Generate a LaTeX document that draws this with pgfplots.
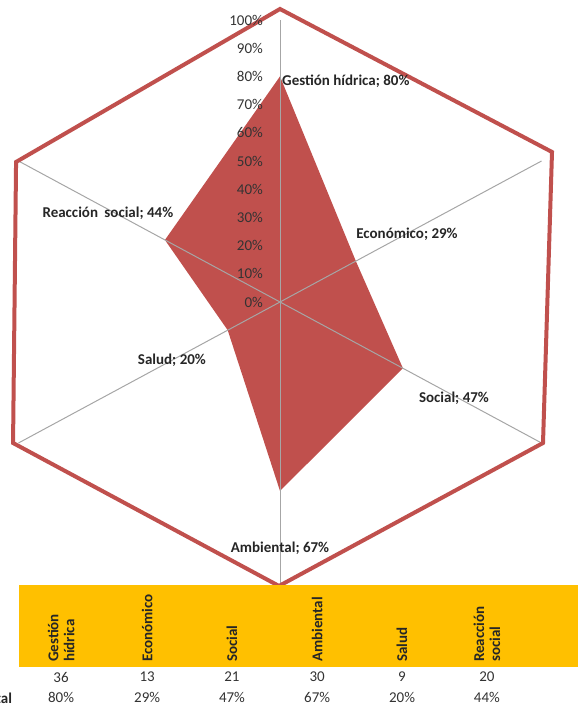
\documentclass[border=0pt]{standalone}
\usepackage{fontspec}
\setmainfont{Carlito}
\usepackage{pgfplots}
\pgfplotsset{compat=1.18}
\definecolor{radarred}{HTML}{C0504D}
\definecolor{bandorange}{HTML}{FFC000}
\definecolor{spokegray}{HTML}{A6A6A6}
\tikzset{
  lbl/.style={font=\bfseries\fontsize{15}{18}\selectfont, text=black!85, inner sep=0pt},
  tk/.style={font=\fontsize{15}{18}\selectfont, text=black!80, inner sep=0pt},
}
\begin{document}
\begin{tikzpicture}
\begin{axis}[
  width=578pt, height=706pt, scale only axis,
  xmin=-92.72, xmax=98.68, ymin=-143.26, ymax=107.09,
  hide axis, clip=false,
]
\path (rel axis cs:0,0) rectangle (rel axis cs:1,1);
% data polygon (angle, percent)
\addplot[fill=radarred, draw=none, data cs=polar] coordinates {
  (90,80) (30,29) (-30,47) (-90,67) (210,20) (150,44)
} -- cycle;
% spokes
\addplot[spokegray, line width=1pt, data cs=polar] coordinates {(0,0) (90,100)};
\addplot[spokegray, line width=1pt, data cs=polar] coordinates {(0,0) (30,100)};
\addplot[spokegray, line width=1pt, data cs=polar] coordinates {(0,0) (-30,100)};
\addplot[spokegray, line width=1pt, data cs=polar] coordinates {(0,0) (-90,100)};
\addplot[spokegray, line width=1pt, data cs=polar] coordinates {(0,0) (210,100)};
\addplot[spokegray, line width=1pt, data cs=polar] coordinates {(0,0) (150,100)};
% outer hexagon
\addplot[radarred, line width=4pt, line join=miter] coordinates {
  (0,103.9) (90.07,53.19) (87.09,-50) (-0.33,-100.7) (-88.4,-50) (-87.4,49.65)
} -- cycle;
% table band
\fill[bandorange] (axis cs:-86.4,-100.35) rectangle (axis cs:98.68,-129.5);
% tick labels
\pgfplotsinvokeforeach{0,10,20,30,40,50,60,70,80,90,100}{
  \node[tk, anchor=east] at (axis cs:-5.6,#1) {#1\%};
}
% data labels
\node[lbl, anchor=west] at (axis cs:0.66,78.4) {Gestión hídrica; 80\%};
\node[lbl] at (axis cs:42.05,24.1) {Económico; 29\%};
\node[lbl] at (axis cs:57.6,-34.0) {Social; 47\%};
\node[lbl] at (axis cs:0,-87.2) {Ambiental; 67\%};
\node[lbl] at (axis cs:-35.8,-20.6) {Salud; 20\%};
\node[lbl] at (axis cs:-57.0,31.6) {Reacción\hspace{3pt} social; 44\%};
% table headers
\node[lbl, rotate=90, anchor=west, align=left, font=\bfseries\fontsize{15}{16}\selectfont] at (axis cs:-72.5,-127.7) {Gestión\\hídrica};
\node[lbl, rotate=90, anchor=west] at (axis cs:-44.0,-127.7) {Económico};
\node[lbl, rotate=90, anchor=west] at (axis cs:-15.9,-127.7) {Social};
\node[lbl, rotate=90, anchor=west] at (axis cs:12.3,-127.7) {Ambiental};
\node[lbl, rotate=90, anchor=west] at (axis cs:40.4,-127.7) {Salud};
\node[lbl, rotate=90, anchor=west, align=left, font=\bfseries\fontsize{15}{16}\selectfont] at (axis cs:68.5,-127.7) {Reacción\\social};
% table rows
\node[tk] at (axis cs:-72.5,-133.0) {36};
\node[tk] at (axis cs:-44.0,-133.0) {13};
\node[tk] at (axis cs:-15.9,-133.0) {21};
\node[tk] at (axis cs:12.3,-133.0) {30};
\node[tk] at (axis cs:40.4,-133.0) {9};
\node[tk] at (axis cs:68.5,-133.0) {20};
\node[tk] at (axis cs:-72.5,-140.4) {80\%};
\node[tk] at (axis cs:-44.0,-140.4) {29\%};
\node[tk] at (axis cs:-15.9,-140.4) {47\%};
\node[tk] at (axis cs:12.3,-140.4) {67\%};
\node[tk] at (axis cs:40.4,-140.4) {20\%};
\node[tk] at (axis cs:68.5,-140.4) {44\%};
\node[lbl, anchor=east, overlay] at (axis cs:-88.7,-140.4) {Total};
\node[lbl, anchor=east, overlay] at (axis cs:-92.4,-133.0) {Frecuencia};
\end{axis}
\end{tikzpicture}
\end{document}
